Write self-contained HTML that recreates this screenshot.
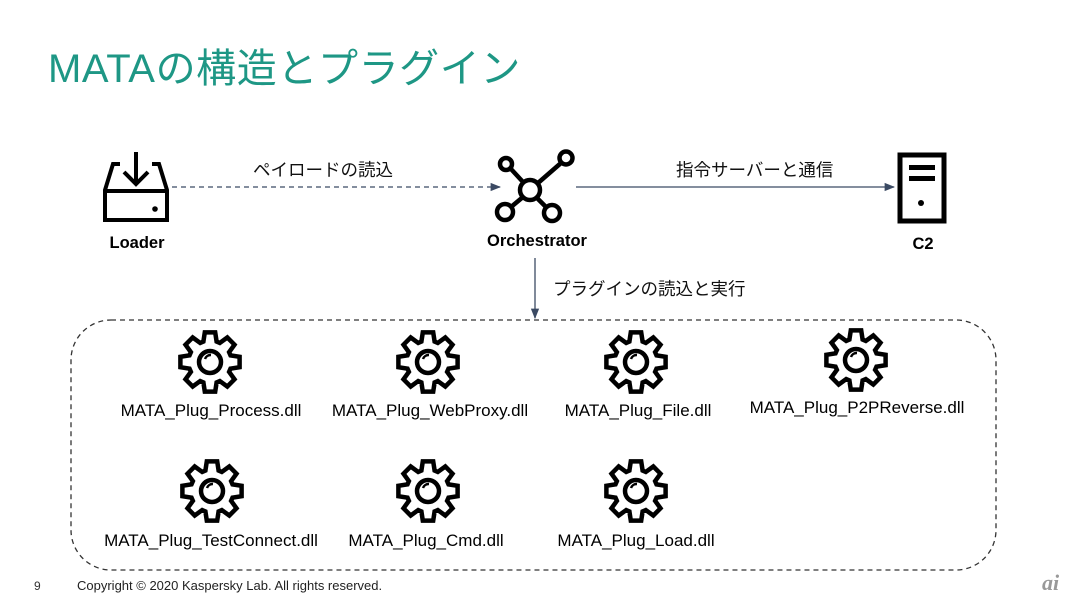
<!DOCTYPE html>
<html><head><meta charset="utf-8"><style>
body{margin:0;width:1071px;height:600px;background:#fff;position:relative;overflow:hidden;font-family:"Liberation Sans","Noto Sans CJK JP",sans-serif}
.t{position:absolute;white-space:nowrap}
.title{left:48px;top:36px;font-size:40px;color:#1e9785;font-family:"Liberation Sans","Noto Sans CJK JP",sans-serif;letter-spacing:0.6px}
.lab{font-size:17px;color:#000;transform:translateX(-50%)}
.bold{font-weight:bold;font-size:16.5px;transform:translateX(-50%)}
.jp{font-size:17.5px;color:#111}
</style></head><body>
<div class="t title">MATAの構造とプラグイン</div>

<svg width="1071" height="600" style="position:absolute;left:0;top:0">
<defs>
<marker id="ar" viewBox="0 0 10 10" refX="9" refY="5" markerWidth="8" markerHeight="8" orient="auto"><path d="M0,1 L10,5 L0,9 z" fill="#3b4a63"/></marker>
<g id="gear"><polygon id="gp" fill="none" stroke="#000" stroke-width="4.5" stroke-linejoin="miter"/><circle r="11" fill="none" stroke="#000" stroke-width="4.5"/><path d="M-5,-3 A6,6 0 0 1 1,-7" fill="none" stroke="#000" stroke-width="2.5"/></g>
</defs>
<rect x="71" y="320" width="925" height="250" rx="40" fill="none" stroke="#333" stroke-width="1.3" stroke-dasharray="5,4"/>
<line x1="172" y1="187" x2="500" y2="187" stroke="#3b4a63" stroke-width="1.3" stroke-dasharray="5,4" marker-end="url(#ar)"/>
<line x1="576" y1="187" x2="894" y2="187" stroke="#3b4a63" stroke-width="1.3" marker-end="url(#ar)"/>
<line x1="535" y1="258" x2="535" y2="318" stroke="#3b4a63" stroke-width="1.3" marker-end="url(#ar)"/>
<g fill="none" stroke="#000" stroke-width="4">
<path d="M120,164 L113,164 L105,190 L105,220 L167,220 L167,190 L159,164 L152,164"/>
<line x1="105" y1="191" x2="167" y2="191"/>
<line x1="136" y1="152" x2="136" y2="184"/>
<path d="M124,172 L136,184 L148,172"/>
</g>
<circle cx="155" cy="209" r="2.8" fill="#000"/>
<g fill="none" stroke="#000" stroke-width="4.5">
<circle cx="530" cy="190" r="10"/>
<circle cx="506" cy="164" r="6"/>
<circle cx="566" cy="158" r="6.5"/>
<circle cx="505" cy="212" r="8"/>
<circle cx="552" cy="213" r="8"/>
<line x1="511" y1="169" x2="523" y2="182"/>
<line x1="561" y1="163" x2="538" y2="183"/>
<line x1="511" y1="207" x2="523" y2="197"/>
<line x1="537" y1="198" x2="546" y2="207"/>
</g>
<rect x="900" y="155" width="44" height="66" fill="none" stroke="#000" stroke-width="5"/>
<rect x="909" y="165" width="26" height="5" fill="#000"/>
<rect x="909" y="176" width="26" height="5" fill="#000"/>
<circle cx="921" cy="203" r="3" fill="#000"/>
<use href="#gear" x="210" y="362"/>
<use href="#gear" x="428" y="362"/>
<use href="#gear" x="636" y="362"/>
<use href="#gear" x="856" y="360"/>
<use href="#gear" x="212" y="491"/>
<use href="#gear" x="428" y="491"/>
<use href="#gear" x="636" y="491"/>
</svg>
<script>
var p=[],N=8,ro=30,ri=21.5;
for(var i=0;i<N;i++){var a=i*2*Math.PI/N;
[[-0.36,ri],[-0.2,ro],[0.2,ro],[0.36,ri]].forEach(function(q){var an=a+q[0]*Math.PI/N*2.2;p.push((q[1]*Math.cos(an)).toFixed(1)+","+(q[1]*Math.sin(an)).toFixed(1));});}
document.getElementById('gp').setAttribute('points',p.join(' '));
</script>

<div class="t jp" style="left:253px;top:157px">ペイロードの読込</div>
<div class="t jp" style="left:676px;top:157px">指令サーバーと通信</div>
<div class="t jp" style="left:553px;top:276px">プラグインの読込と実行</div>
<div class="t bold" style="left:137px;top:234px">Loader</div>
<div class="t bold" style="left:537px;top:232px">Orchestrator</div>
<div class="t bold" style="left:923px;top:235px">C2</div>

<div class="t lab" style="left:211px;top:401px">MATA_Plug_Process.dll</div>
<div class="t lab" style="left:430px;top:401px">MATA_Plug_WebProxy.dll</div>
<div class="t lab" style="left:638px;top:401px">MATA_Plug_File.dll</div>
<div class="t lab" style="left:857px;top:398px">MATA_Plug_P2PReverse.dll</div>
<div class="t lab" style="left:211px;top:531px">MATA_Plug_TestConnect.dll</div>
<div class="t lab" style="left:426px;top:531px">MATA_Plug_Cmd.dll</div>
<div class="t lab" style="left:636px;top:531px">MATA_Plug_Load.dll</div>

<div class="t" style="left:34px;top:579px;font-size:12px;color:#333">9</div>
<div class="t" style="left:77px;top:578px;font-size:13px;color:#222">Copyright © 2020 Kaspersky Lab. All rights reserved.</div>
<div class="t" style="left:1042px;top:570px;font-size:22px;color:#999;font-style:italic;font-weight:bold;font-family:'Liberation Serif',serif">ai</div>
</body></html>
